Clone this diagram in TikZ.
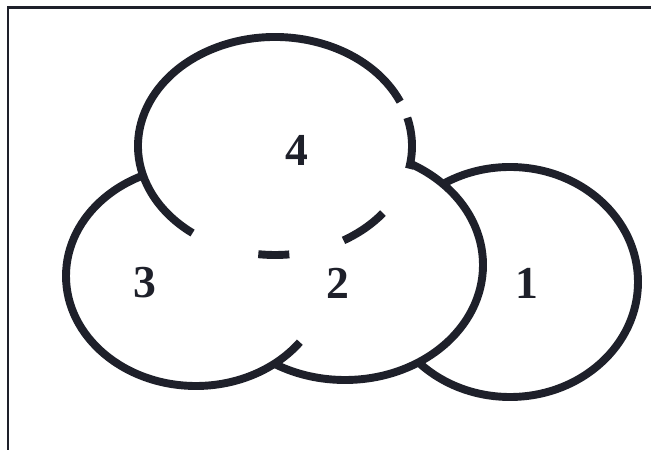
\documentclass[tikz,border=0pt]{standalone}
\usepackage{fontspec}
\setmainfont{Liberation Serif}
\definecolor{ink}{RGB}{30,32,42}
\tikzset{
  ring/.style={draw=ink, line width=4.5pt},
  blank/.style={fill=white},
  setlabel/.style={font=\fontsize{26}{30}\selectfont\bfseries, text=ink}
}
\begin{document}
\begin{tikzpicture}[x=0.2mm, y=0.2mm]
\useasboundingbox (0,0) rectangle (651,450);
% Frame
\draw[draw=ink, line width=1.7pt] (8,0) -- (8,442) -- (651,442);
% Centres
\coordinate (c1) at (510,168);
\coordinate (c2) at (345,185);
\coordinate (c3) at (196,174);
\coordinate (c4) at (275,304);
% Sets, back to front
\path[blank, ring] (c1) ellipse [x radius=128, y radius=115];
\path[blank, ring] (c2) ellipse [x radius=138, y radius=115];
\fill[white] (c3) ellipse [x radius=130, y radius=110];
\draw[ring] (c3) ++(90:130 and 110) arc [start angle=90, end angle=323, x radius=130, y radius=110];
\fill[white] (c4) ellipse [x radius=137, y radius=109];
\draw[ring] (c4) ++(24:137 and 109) arc [start angle=24, end angle=233, x radius=137, y radius=109];
\draw[ring] (c4) ++(263:137 and 109) arc [start angle=263, end angle=276, x radius=137, y radius=109];
\draw[ring] (c4) ++(300:137 and 109) arc [start angle=300, end angle=322, x radius=137, y radius=109];
\draw[ring] (c4) ++(348:137 and 109) arc [start angle=348, end angle=375, x radius=137, y radius=109];
% Labels
\node[setlabel] (l4) at (297,300) {4};
\node[setlabel] (l3) at (145,167) {3};
\node[setlabel] (l2) at (338,167) {2};
\node[setlabel] (l1) at (527,167) {1};
\end{tikzpicture}
\end{document}
